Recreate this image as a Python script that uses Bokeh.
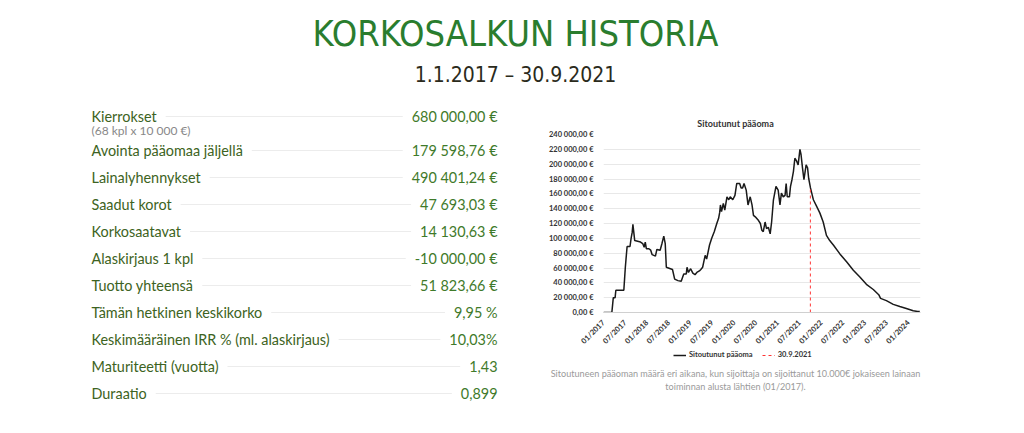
import math
import numpy as np
from bokeh.plotting import figure
from bokeh.models import Range1d, FixedTicker, Legend, LegendItem
from bokeh.layouts import column, row
from bokeh.core.properties import value
from bokeh.embed import file_html
from bokeh.resources import INLINE

# ---------------- data ----------------
TITLE = "KORKOSALKUN HISTORIA"
SUBTITLE = "1.1.2017 \u2013 30.9.2021"

row_labels = [
    "Kierrokset",
    "Avointa pääomaa jäljellä",
    "Lainalyhennykset",
    "Saadut korot",
    "Korkosaatavat",
    "Alaskirjaus 1 kpl",
    "Tuotto yhteensä",
    "Tämän hetkinen keskikorko",
    "Keskimääräinen IRR % (ml. alaskirjaus)",
    "Maturiteetti (vuotta)",
    "Duraatio",
]
row_values = [
    "680 000,00 €",
    "179 598,76 €",
    "490 401,24 €",
    "47 693,03 €",
    "14 130,63 €",
    "-10 000,00 €",
    "51 823,66 €",
    "9,95 %",
    "10,03%",
    "1,43",
    "0,899",
]
sub_label = "(68 kpl x 10 000 €)"

chart_title = "Sitoutunut pääoma"
series_name = "Sitoutunut pääoma"
cutoff_name = "30.9.2021"
cutoff_month = 56.97  # months since 01/2017

caption_lines = [
    "Sitoutuneen pääoman määrä eri aikana, kun sijoittaja on sijoittanut 10.000€ jokaiseen lainaan",
    "toiminnan alusta lähtien (01/2017).",
]

# months since 1.1.2017
month_index = [
    0, 2.3, 2.5, 2.7, 3.2, 3.4, 5.6, 5.8, 6.0, 6.2, 6.5, 7.3, 7.6, 7.9, 8.1, 8.3, 8.6,
    10.2, 10.8, 11.2, 11.5, 11.8, 12.5, 13.0, 13.4, 14.3, 14.7, 15.6, 16.1, 16.6, 17.0,
    17.3, 19.0, 19.6, 20.5, 21.4, 22.1, 22.8, 23.0, 23.4, 24.0, 24.6, 25.2, 25.7, 26.4,
    26.8, 27.3, 27.6, 28.0, 28.4, 29.2, 29.8, 30.5, 31.2, 31.7, 32.0, 32.2, 32.5, 33.0,
    33.4, 34.0, 34.5, 34.9, 35.6, 36.2, 36.7, 37.5, 37.9, 38.3, 38.7, 39.3, 39.8, 40.4,
    40.9, 41.3, 41.8, 42.7, 43.2, 43.6, 44.0, 44.5, 44.9, 45.4, 45.9, 46.3, 46.8, 47.5,
    48.1, 48.6, 49.0, 49.5, 50.0, 50.3, 50.6, 51.2, 51.5, 51.9, 52.3, 52.7, 53.2, 53.6,
    54.1, 54.4, 54.8, 55.2, 55.8, 56.2, 56.5, 57.0, 57.4, 57.8, 58.7, 59.6, 60.5, 61.4,
    62.3, 63.3, 65.1, 67.0, 68.8, 70.6, 72.4, 74.3, 75.8, 76.3, 77.9, 79.8, 81.6, 83.4,
    85.3, 86.5, 87.1,
]
capital = [
    0, 0, 10000, 20000, 20000, 30000, 30000, 45000, 60000, 72000, 89000, 89000, 100000,
    108000, 119000, 110000, 97000,
    95000, 93000, 88000, 95000, 86000, 86000, 84000, 78000, 76000, 85000, 84000, 93000,
    103000, 93000,
    61000, 58000, 45000, 43000, 42000, 52000, 52000, 61000, 54000, 59000, 53000, 51000,
    54000, 56000,
    58000, 61000, 68000, 77000, 72000, 91000, 100000, 109000, 120000, 127000, 135000,
    145000, 136000, 147000,
    138000, 156000, 152000, 156000, 152000, 158000, 174000, 174000, 168000, 168000,
    174000, 165000, 145000, 156000,
    145000, 131000, 129000, 124000, 120000, 111000, 109000, 122000, 113000, 115000,
    106000, 122000, 152000, 170000,
    165000, 145000, 161000, 156000, 158000, 174000, 156000, 156000, 170000, 179000,
    190000, 208000, 204000, 199000,
    220000, 213000, 195000, 179000, 199000, 195000, 181000, 168000, 160000, 152000,
    143000, 134000, 122000, 104000,
    97000, 91000, 79000, 68000, 57000, 48000, 38000, 31000, 24000, 19000, 16000, 11000,
    8000, 5400,
    2300, 1400, 1200,
]

tick_months = [0, 6, 12, 18, 24, 30, 36, 42, 48, 54, 60, 66, 72, 78, 84]
tick_labels = ["01/2017", "07/2017", "01/2018", "07/2018", "01/2019", "07/2019",
               "01/2020", "07/2020", "01/2021", "07/2021", "01/2022", "07/2022",
               "01/2023", "07/2023", "01/2024"]
y_ticks = [0, 20000, 40000, 60000, 80000, 100000, 120000, 140000, 160000, 180000,
           200000, 220000, 240000]

# ---------------- styles ----------------
GREEN_TITLE = "#2a7d2e"
LABEL_COLOR = "#3d6322"
VALUE_COLOR = "#3f7a2a"
LINE_COLOR = "#1a1a1a"
CUT_COLOR = "#ff3333"
HEAD_FONT = value("Liberation Sans Narrow, DejaVu Sans Condensed")
BODY_FONT = value("Lato")


def blank(width, height):
    f = figure(width=width, height=height, x_range=Range1d(0, width),
               y_range=Range1d(height, 0), x_axis_location=None, y_axis_location=None,
               output_backend="svg", toolbar_location=None, min_border=0,
               outline_line_color=None, background_fill_color="white",
               border_fill_color="white", frame_align=False, title=None)
    f.grid.visible = False
    return f


# ---------------- page title ----------------
tf = blank(1024, 95)
tf.text(x=[515], y=[33], text=[TITLE], text_font=HEAD_FONT, text_font_size="36px",
        text_color=GREEN_TITLE, text_align="center", text_baseline="middle")
tf.text(x=[515], y=[74], text=[SUBTITLE], text_font=HEAD_FONT, text_font_size="21px",
        text_color="#2b2b1c", text_align="center", text_baseline="middle")

# ---------------- table ----------------
TOP = 95
PADX = 9
tb = blank(540, 338)
row_y = [116 - TOP] + [150 - TOP + 27 * i for i in range(len(row_labels) - 1)]
x_left, x_right = 91, 497
tb.segment(x0=[x_left] * len(row_y), x1=[x_right] * len(row_y), y0=row_y, y1=row_y,
           line_color="#ececec", line_width=1)
pad = dict(left=PADX, right=PADX, top=1, bottom=1)
tb.text(x=[x_left - PADX] * len(row_y), y=row_y, text=row_labels, text_font=BODY_FONT,
        text_font_size="14.4px", text_color=LABEL_COLOR, text_align="left",
        text_baseline="middle", background_fill_color="white", padding=pad)
tb.text(x=[x_right + PADX] * len(row_y), y=row_y, text=row_values, text_font=BODY_FONT,
        text_font_size="14.4px", text_color=VALUE_COLOR, text_align="right",
        text_baseline="middle", background_fill_color="white", padding=pad)
tb.text(x=[x_left], y=[130 - TOP], text=[sub_label], text_font=BODY_FONT,
        text_font_size="12px", text_color="#888888", text_align="left",
        text_baseline="middle")

# ---------------- chart title strip ----------------
CT_H = 34
ct = blank(484, CT_H)
ct.text(x=[195], y=[28], text=[chart_title], text_font=BODY_FONT,
        text_font_style="bold", text_font_size="9px", text_color="#333333",
        text_align="center", text_baseline="middle")

# ---------------- chart ----------------
BORDER_BOTTOM = 36
p = figure(frame_width=317, frame_height=178, x_range=Range1d(0, 87.3),
           y_range=Range1d(0, 240000),
           min_border_left=63, min_border_right=104, min_border_top=5,
           min_border_bottom=BORDER_BOTTOM, output_backend="svg",
           toolbar_location=None, outline_line_color=None, frame_align=False,
           title=None)

p.xgrid.visible = False
p.ygrid.grid_line_color = "#e8e8e8"
p.ygrid.ticker = FixedTicker(ticks=y_ticks)

p.yaxis.ticker = FixedTicker(ticks=y_ticks)
p.yaxis.major_label_overrides = {
    v: f"{v:,.2f}".replace(",", " ").replace(".", ",") + " €" for v in y_ticks
}
p.yaxis.axis_line_color = None
p.yaxis.major_tick_line_color = None
p.yaxis.minor_tick_line_color = None
p.yaxis.major_label_standoff = 4
p.yaxis.major_label_text_font = "Lato"
p.yaxis.major_label_text_font_style = "bold"
p.yaxis.major_label_text_font_size = "7.5px"
p.yaxis.major_label_text_color = "#333333"

p.xaxis.ticker = FixedTicker(ticks=tick_months)
p.xaxis.major_label_overrides = dict(zip(tick_months, tick_labels))
p.xaxis.major_label_orientation = math.pi / 4
p.xaxis.axis_line_color = "#d0d0d0"
p.xaxis.major_tick_line_color = None
p.xaxis.minor_tick_line_color = None
p.xaxis.major_label_standoff = 3
p.xaxis.major_label_text_font = "Lato"
p.xaxis.major_label_text_font_style = "bold"
p.xaxis.major_label_text_font_size = "7.5px"
p.xaxis.major_label_text_color = "#333333"

p.line(month_index, capital, line_color=LINE_COLOR, line_width=1.5)
cut_val = float(np.interp(cutoff_month, month_index, capital))
p.line([cutoff_month, cutoff_month], [0, cut_val], line_color=CUT_COLOR,
       line_width=1, line_dash="3 3")

# ---------------- legend + caption ----------------
CAP_H = 338 - CT_H - (5 + 178 + BORDER_BOTTOM)
c = blank(484, CAP_H)
nan = float("nan")
lg_line = c.line([nan, nan], [nan, nan], line_color=LINE_COLOR, line_width=1.5)
lg_cut = c.line([nan, nan], [nan, nan], line_color=CUT_COLOR, line_width=1,
                line_dash="3 3")
legend = Legend(items=[LegendItem(label=series_name, renderers=[lg_line]),
                       LegendItem(label=cutoff_name, renderers=[lg_cut])],
                location=(133, CAP_H - 8), orientation="horizontal",
                background_fill_alpha=0, border_line_color=None, padding=0, margin=0,
                spacing=9, glyph_width=13, glyph_height=8, label_height=8,
                label_standoff=3, label_text_font="Lato",
                label_text_font_style="bold", label_text_font_size="7.5px",
                label_text_color="#333333")
c.add_layout(legend)
c.text(x=[195, 195], y=[22, 35], text=caption_lines, text_font=BODY_FONT,
       text_font_size="9.1px", text_color="#9a9a9a", text_align="center",
       text_baseline="middle")

layout = column(tf, row(tb, column(ct, p, c)))
open("out.html", "w").write(file_html(layout, INLINE))
